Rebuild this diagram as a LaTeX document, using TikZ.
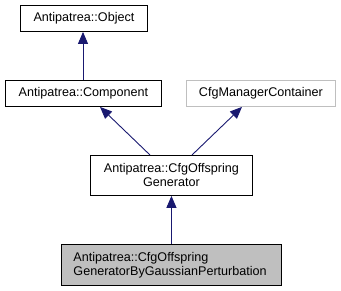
\documentclass[tikz,border=0pt]{standalone}
\usepackage{fontspec}
\setmainfont{Liberation Sans}
\usetikzlibrary{arrows.meta}
\definecolor{edgeblue}{HTML}{191970}
\definecolor{boxgray}{HTML}{BFBFBF}
\tikzset{
  x=1pt, y=-1pt,
  cls/.style={draw=black, line width=0.9pt, fill=white, inner sep=0pt, anchor=north west,
    font=\fontsize{12.6}{14}\selectfont, align=center},
  ext/.style={cls, draw=boxgray},
  cur/.style={cls, fill=boxgray, align=left},
  inherit/.style={draw=edgeblue, line width=0.9pt,
    -{Triangle[length=12pt, width=10pt, fill=edgeblue]}},
}
\begin{document}
\begin{tikzpicture}
\useasboundingbox (0,0) rectangle (341,291);
\node[cls, minimum width=127pt, minimum height=26pt] (obj) at (20,5) {Antipatrea::Object};
\node[cls, minimum width=156pt, minimum height=26pt] (comp) at (5,80) {Antipatrea::Component};
\node[ext, minimum width=149pt, minimum height=26pt] (mgr) at (186,80) {CfgManagerContainer};
\node[cls, minimum width=162pt, minimum height=40pt] (gen) at (90,155) {Antipatrea::CfgOffspring\\Generator};
\node[cur, minimum width=220pt, minimum height=41pt, text width=196pt] (gbp) at (61,244) {Antipatrea::CfgOffspring\\GeneratorByGaussianPerturbation};
\draw[inherit] (comp.north -| 83,0) -- (obj.south -| 83,0);
\draw[inherit] (gen.north -| 150,0) -- (comp.south -| 100,0);
\draw[inherit] (gen.north -| 192,0) -- (mgr.south -| 242,0);
\draw[inherit] (gbp.north) -- (gen.south);
\end{tikzpicture}
\end{document}
